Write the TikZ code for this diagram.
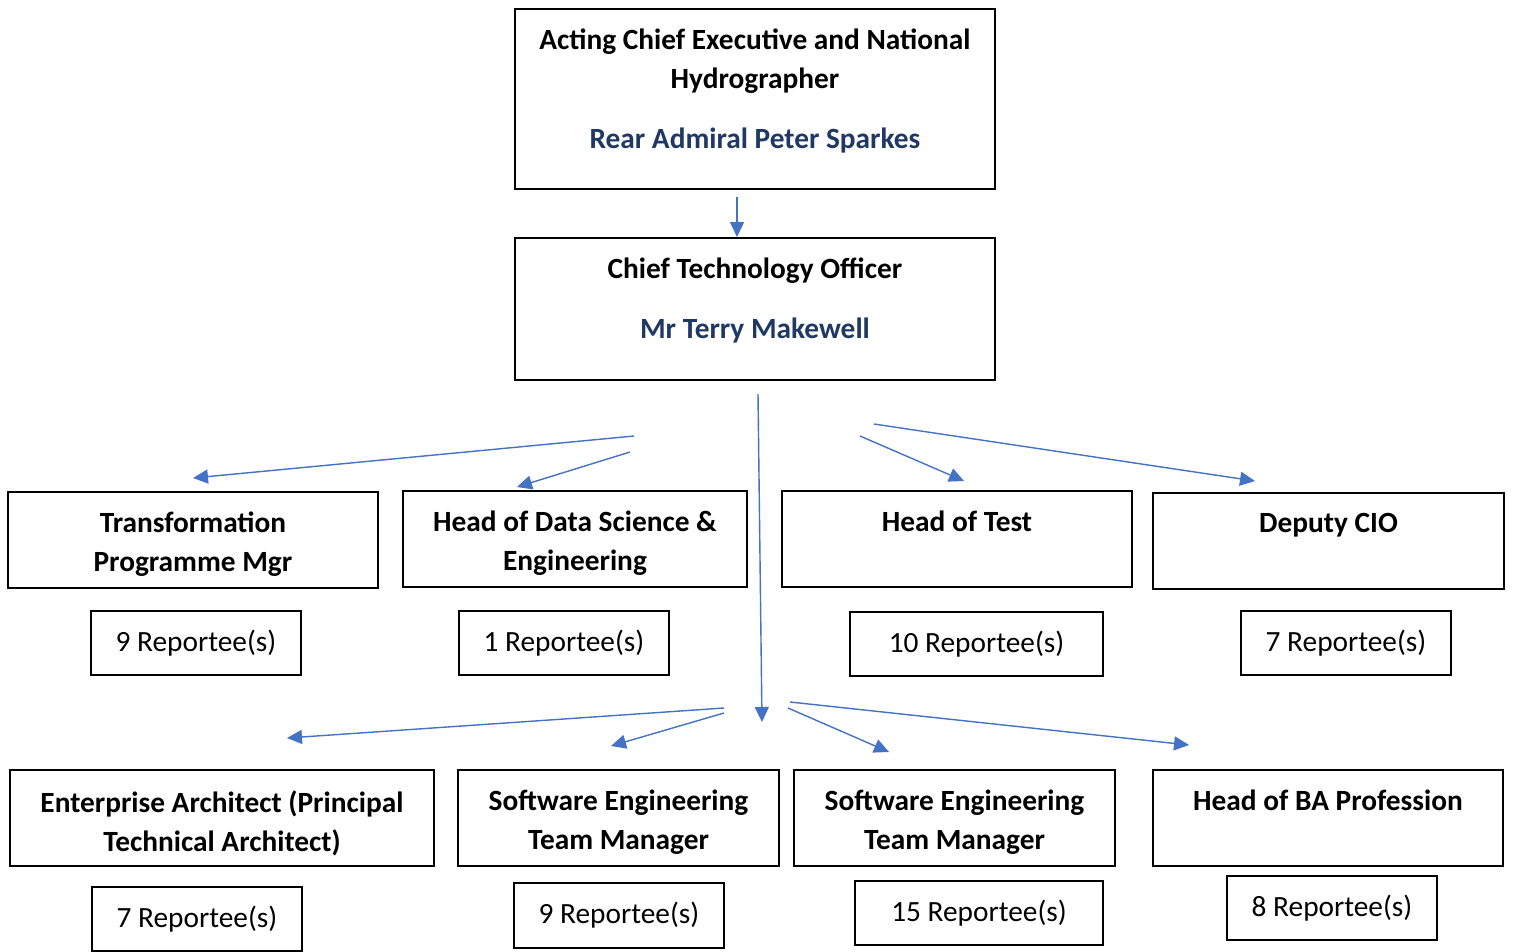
\documentclass[tikz,border=0pt]{standalone}
\usepackage{fontspec}
\setmainfont{Carlito}
\usepackage{xcolor}
\usetikzlibrary{positioning,arrows.meta}
\definecolor{linkblue}{HTML}{4472C4}
\definecolor{nameblue}{HTML}{1F3864}

\begin{document}
\begin{tikzpicture}[
    box/.style={draw, line width=1.3pt, inner sep=0pt, minimum height=1.92cm},
    title/.style={font=\fontsize{16.7}{22.2}\selectfont\bfseries, align=center, inner sep=0pt},
    count/.style={draw, line width=1.3pt, inner sep=0pt, minimum width=4.2cm, minimum height=1.28cm, font=\fontsize{16.7}{22.2}\selectfont},
    link/.style={draw=linkblue, line width=0.8pt, -{Triangle[length=0.3cm,width=0.28cm]}}
]
    \useasboundingbox (0,0) rectangle (30.28,-19.02);

    % Top of the chart
    \node [box, minimum width=9.6cm, minimum height=3.6cm] (ceo) at (15.10,-1.98) {};
    \node [title, below=0.42cm of ceo.north] (ceotext) {Acting Chief Executive and National\\Hydrographer\\[0.42cm]\textcolor{nameblue}{Rear Admiral Peter Sparkes}};

    \node [box, minimum width=9.6cm, minimum height=2.84cm] (cto) at (15.10,-6.18) {};
    \node [title, below=0.42cm of cto.north] (ctotext) {Chief Technology Officer\\[0.42cm]\textcolor{nameblue}{Mr Terry Makewell}};

    % First row
    \node [box, minimum width=7.4cm] (trans) at (3.86,-10.80) {};
    \node [title, below=0.42cm of trans.north] (transtext) {Transformation\\Programme Mgr};
    \node [box, minimum width=6.88cm] (data) at (11.50,-10.78) {};
    \node [title, below=0.42cm of data.north] (datatext) {Head of Data Science \&\\Engineering};
    \node [box, minimum width=7.0cm] (test) at (19.14,-10.78) {};
    \node [title, below=0.42cm of test.north] (testtext) {Head of Test};
    \node [box, minimum width=7.02cm] (deputy) at (26.57,-10.82) {};
    \node [title, below=0.42cm of deputy.north] (deputytext) {Deputy CIO};

    \node [count] (transcount) at (3.92,-12.86) {9 Reportee(s)};
    \node [count] (datacount) at (11.28,-12.86) {1 Reportee(s)};
    \node [count, minimum width=5.06cm] (testcount) at (19.53,-12.88) {10 Reportee(s)};
    \node [count] (deputycount) at (26.92,-12.86) {7 Reportee(s)};

    % Second row
    \node [box, minimum width=8.48cm] (arch) at (4.44,-16.36) {};
    \node [title, below=0.42cm of arch.north] (archtext) {Enterprise Architect (Principal\\Technical Architect)};
    \node [box, minimum width=6.42cm] (swa) at (12.37,-16.36) {};
    \node [title, below=0.42cm of swa.north] (swatext) {Software Engineering\\Team Manager};
    \node [box, minimum width=6.42cm] (swb) at (19.09,-16.36) {};
    \node [title, below=0.42cm of swb.north] (swbtext) {Software Engineering\\Team Manager};
    \node [box, minimum width=7.0cm] (ba) at (26.56,-16.36) {};
    \node [title, below=0.42cm of ba.north] (batext) {Head of BA Profession};

    \node [count] (archcount) at (3.94,-18.38) {7 Reportee(s)};
    \node [count, minimum height=1.3cm] (swacount) at (12.38,-18.31) {9 Reportee(s)};
    \node [count, minimum width=4.96cm] (swbcount) at (19.58,-18.26) {15 Reportee(s)};
    \node [count] (bacount) at (26.64,-18.16) {8 Reportee(s)};

    % Arrow ends
    \coordinate (ceoout) at (14.74,-3.94);
    \coordinate (ctoin) at (14.74,-4.74);
    \coordinate (ctoout) at (15.16,-7.88);
    \coordinate (rowtwo) at (15.24,-14.44);
    \coordinate (transfrom) at (12.68,-8.72);
    \coordinate (transto) at (3.86,-9.56);
    \coordinate (datafrom) at (12.60,-9.04);
    \coordinate (datato) at (10.34,-9.74);
    \coordinate (testfrom) at (17.20,-8.72);
    \coordinate (testto) at (19.28,-9.62);
    \coordinate (deputyfrom) at (17.48,-8.48);
    \coordinate (deputyto) at (25.10,-9.62);
    \coordinate (archfrom) at (14.48,-14.16);
    \coordinate (archto) at (5.74,-14.76);
    \coordinate (swafrom) at (14.48,-14.26);
    \coordinate (swato) at (12.22,-14.92);
    \coordinate (swbfrom) at (15.76,-14.16);
    \coordinate (swbto) at (17.78,-15.04);
    \coordinate (bafrom) at (15.80,-14.04);
    \coordinate (bato) at (23.78,-14.90);

    % Arrows
    \draw [link] (ceoout) -- (ctoin);
    \draw [link] (ctoout) -- (rowtwo);
    \draw [link] (transfrom) -- (transto);
    \draw [link] (datafrom) -- (datato);
    \draw [link] (testfrom) -- (testto);
    \draw [link] (deputyfrom) -- (deputyto);
    \draw [link] (archfrom) -- (archto);
    \draw [link] (swafrom) -- (swato);
    \draw [link] (swbfrom) -- (swbto);
    \draw [link] (bafrom) -- (bato);
\end{tikzpicture}
\end{document}
